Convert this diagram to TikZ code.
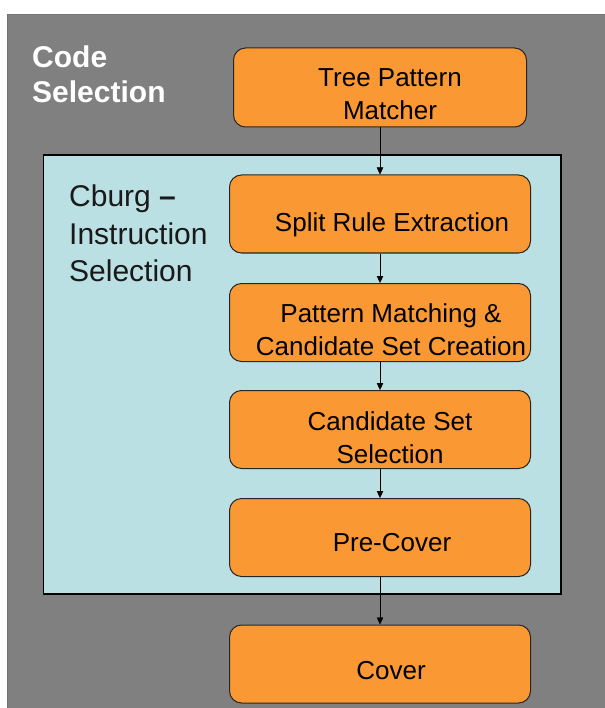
\documentclass[tikz,border=0pt]{standalone}
\usepackage{fontspec}
\setmainfont{Liberation Sans}
\usetikzlibrary{arrows.meta}

\definecolor{slidegray}{RGB}{128,128,128}
\definecolor{cburgblue}{RGB}{187,224,227}
\definecolor{stageorange}{RGB}{250,153,51}

\tikzset{
  stage/.style={draw=black!85, line width=1pt, fill=stageorange, rounded corners=12pt,
    minimum width=301pt, minimum height=78pt, inner sep=0pt},
  stagetext/.style={font=\fontsize{26}{33}\selectfont, align=center, inner sep=0pt},
}

\begin{document}
\begin{tikzpicture}[x=1pt, y=-1pt, >={Triangle[length=7pt,width=6.5pt]}]
    \useasboundingbox (0,0) rectangle (604,708);
    \fill[white] (0,0) rectangle (604,708);
    \draw[fill=slidegray, draw=black!55] (7.5,14.5) rectangle (620,720);
    \draw[fill=cburgblue, line width=1.3pt] (43.5,155) rectangle (561,594);

    \node[anchor=north west, white, align=left, inner sep=0pt,
          font=\bfseries\fontsize{30}{35}\selectfont] (title) at (32,46) {Code\\Selection};
    \node[anchor=north west, align=left, inner sep=0pt, text=black!90,
          font=\fontsize{30}{37.5}\selectfont] (cburg) at (69,185) {Cburg \textbf{–}\\Instruction\\Selection};

    \node[stage, minimum width=293pt, minimum height=79pt] (tpm) at (380,87.5) {};
    \node[stage] (split) at (380,214) {};
    \node[stage] (match) at (380,322.5) {};
    \node[stage] (cand) at (380,429.5) {};
    \node[stage] (precov) at (380,537.5) {};
    \node[stage] (cover) at (380,664) {};

    \node[stagetext] (tpmtext) at (390,94) {Tree Pattern\\Matcher};
    \node[stagetext] (splittext) at (392,225) {Split Rule Extraction};
    \node[stagetext] (matchtext) at (391,330) {Pattern Matching \&\\Candidate Set Creation};
    \node[stagetext] (candtext) at (390,438) {Candidate Set\\Selection};
    \node[stagetext] (precovtext) at (392,543) {Pre-Cover};
    \node[stagetext] (covertext) at (391,671) {Cover};

    \draw[->] (tpm.south) -- (split.north);
    \draw[->] (split.south) -- (match.north);
    \draw[->] (match.south) -- (cand.north);
    \draw[->] (cand.south) -- (precov.north);
    \draw[->] (precov.south) -- (cover.north);
\end{tikzpicture}
\end{document}
